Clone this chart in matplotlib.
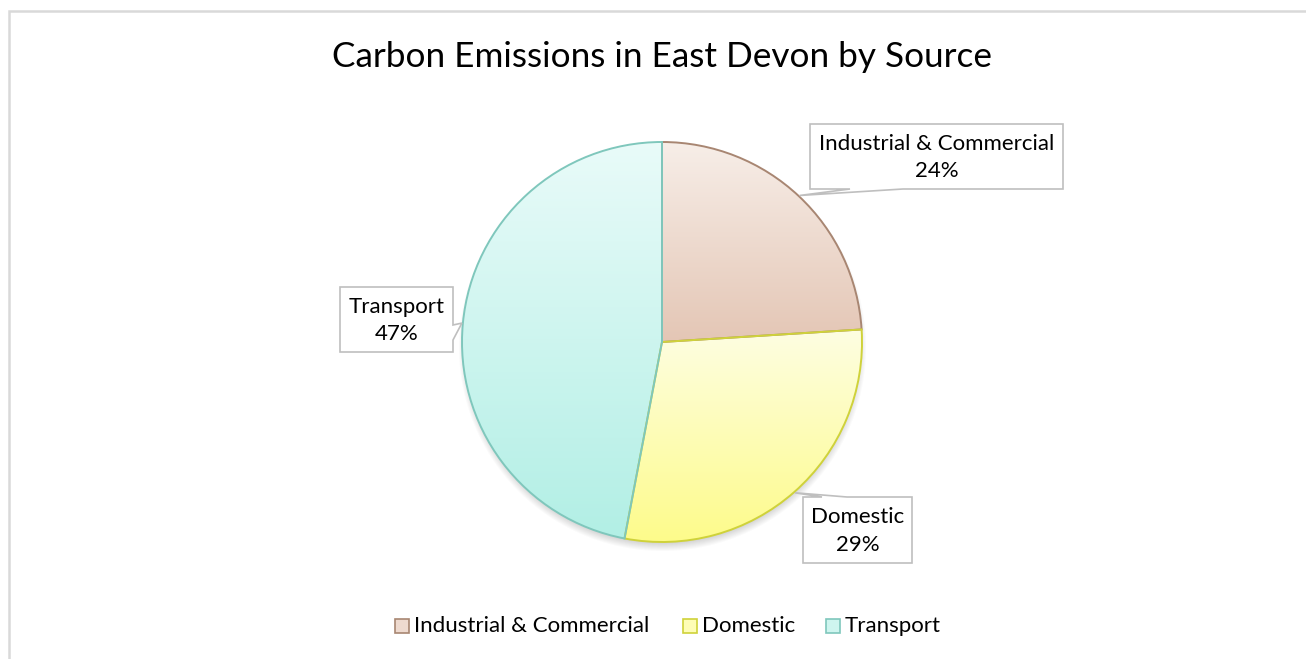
import numpy as np
import matplotlib
matplotlib.use("Agg")
import matplotlib.pyplot as plt
from matplotlib.patches import Polygon, Rectangle
from matplotlib.colors import LinearSegmentedColormap, to_rgb

# Data
categories = ["Industrial & Commercial", "Domestic", "Transport"]
shares = [24, 29, 47]
title = "Carbon Emissions in East Devon by Source"

# Styling: gradient top/bottom colours and outline for each slice
grad_top = ["#f7eee8", "#fefee2", "#e9fbf9"]
grad_bottom = ["#e4c6b5", "#fdfb8a", "#b2efe5"]
edge_colors = ["#a88672", "#cfd23a", "#7fc7bc"]

FONT = "Lato"
W, H = 1306, 659
fig = plt.figure(figsize=(W / 100, H / 100), dpi=100)
ax = fig.add_axes([0, 0, 1, 1])
ax.set_xlim(0, W)
ax.set_ylim(H, 0)
ax.set_axis_off()

cx, cy, R = 662, 342, 200

# Soft shadow under the pie
yy, xx = np.mgrid[0:H, 0:W]
d = np.hypot(xx - cx, yy - (cy + 5))
shadow_alpha = np.clip((R + 4 - d) / 10.0, 0, 1) * 0.35
shadow = np.zeros((H, W, 4))
shadow[..., :3] = 0.45
shadow[..., 3] = shadow_alpha
ax.imshow(shadow, extent=(0, W, H, 0), zorder=1, interpolation="bilinear")

# y axis is inverted, so data angles run clockwise on screen
wedges, _ = ax.pie(shares, center=(cx, cy), radius=R, startangle=-90,
                   counterclock=True, frame=True,
                   wedgeprops=dict(linewidth=1.4))
ax.set_xlim(0, W)
ax.set_ylim(H, 0)
ax.set_aspect("equal")
ax.set_axis_off()

for i, w in enumerate(wedges):
    w.set_facecolor("none")
    w.set_edgecolor(edge_colors[i])
    w.set_zorder(3)
    verts = w.get_path().vertices
    x0, x1 = verts[:, 0].min(), verts[:, 0].max()
    y0, y1 = verts[:, 1].min(), verts[:, 1].max()
    cmap = LinearSegmentedColormap.from_list(f"g{i}", [grad_top[i], grad_bottom[i]])
    grad = np.linspace(0, 1, 256).reshape(-1, 1)
    im = ax.imshow(grad, cmap=cmap, extent=(x0, x1, y1, y0), aspect="auto",
                   zorder=2, interpolation="bilinear")
    im.set_clip_path(w)
    w.set_clip_on(False)
ax.set_xlim(0, W)
ax.set_ylim(H, 0)

# Callout boxes: (left, top, right, bottom), side of pointer, pointer base
boxes = [
    ((810, 124, 1063, 189), "bottom", (850, 903)),
    ((803, 497, 912, 563), "top", (822, 847)),
    ((340, 287, 453, 352), "right", (325, 340)),
]


def tip_point(w, r):
    th = np.deg2rad((w.theta1 + w.theta2) / 2)
    return cx + r * np.cos(th), cy + r * np.sin(th)


for i, (w, (box, side, base)) in enumerate(zip(wedges, boxes)):
    l, t, r_, b = box
    tx, ty = tip_point(w, R + 1)
    if side == "bottom":
        pts = [(l, t), (r_, t), (r_, b), (base[1], b), (tx, ty), (base[0], b), (l, b)]
    elif side == "top":
        pts = [(l, t), (base[0], t), (tx, ty), (base[1], t), (r_, t), (r_, b), (l, b)]
    else:
        pts = [(l, t), (r_, t), (r_, base[0]), (tx, ty), (r_, base[1]), (r_, b), (l, b)]
    ax.add_patch(Polygon(pts, closed=True, facecolor="white", edgecolor="#bfbfbf",
                         linewidth=1.2, zorder=5))
    ax.text((l + r_) / 2, (t + b) / 2 + 1, f"{categories[i]}\n{shares[i]}%",
            ha="center", va="center", fontsize=16, family=FONT,
            color="#000000", linespacing=1.48, zorder=6)

# Title
ax.text(662, 57, title, ha="center", va="center", fontsize=25.3,
        family=FONT, color="#000000")

# Legend
leg_y = 626
leg_items = [(395, 414), (683, 702), (826, 845)]
for i, (sx, tx) in enumerate(leg_items):
    mid = tuple((np.array(to_rgb(grad_top[i])) + np.array(to_rgb(grad_bottom[i]))) / 2)
    ax.add_patch(Rectangle((sx, leg_y - 7), 14, 14, facecolor=mid,
                           edgecolor=edge_colors[i], linewidth=1.2, zorder=5))
    ax.text(tx, leg_y, categories[i], ha="left", va="center",
            fontsize=16, family=FONT, color="#000000")

# Chart area outline (top and left edges)
ax.plot([9, 9, W], [H, 11, 11], color="#d9d9d9", linewidth=1.8,
        solid_joinstyle="miter", zorder=0)

fig.savefig("out.png", dpi=100)
